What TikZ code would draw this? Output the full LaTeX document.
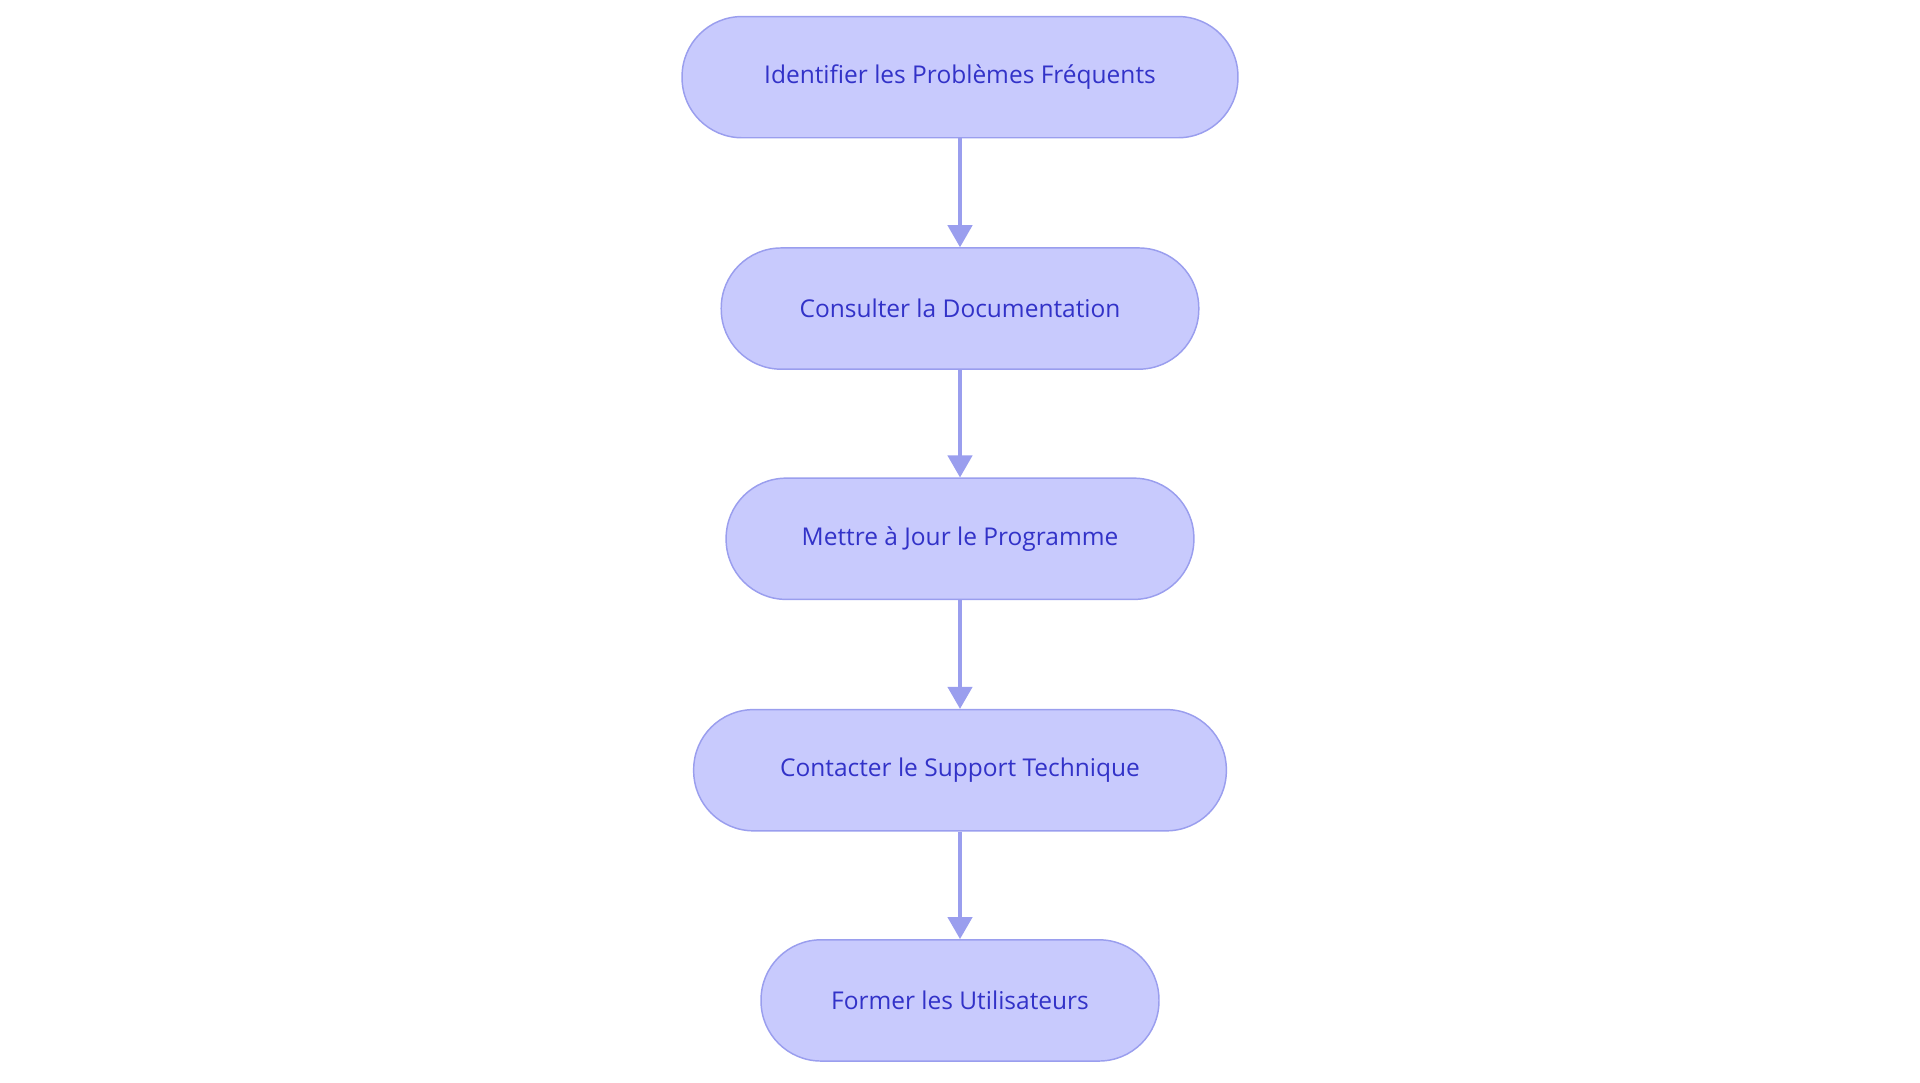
\documentclass[tikz,border=0pt]{standalone}
\usepackage{fontspec}
\setmainfont{Open Sans}
\usetikzlibrary{arrows.meta}
\definecolor{fillc}{HTML}{C8CAFD}
\definecolor{linec}{HTML}{9A9EEE}
\definecolor{textc}{HTML}{3232C8}
\begin{document}
\begin{tikzpicture}[x=1pt,y=-1pt,
 box/.style={draw=linec,line width=1.2pt,fill=fillc,rounded corners=49pt,minimum height=99pt,text=textc,font=\fontsize{20}{24}\selectfont,inner sep=0pt},
 arr/.style={draw=linec,line width=2.5pt,-{Triangle[length=18pt,width=20pt]}}]
\useasboundingbox (0,0) rectangle (1568,884);
\node[box,minimum width=454pt] (a) at (784,63) {Identifier les Problèmes Fréquents};
\node[box,minimum width=390pt] (b) at (784,252) {Consulter la Documentation};
\node[box,minimum width=382pt] (c) at (784,440) {Mettre à Jour le Programme};
\node[box,minimum width=435pt] (d) at (784,629) {Contacter le Support Technique};
\node[box,minimum width=325pt] (e) at (784,817) {Former les Utilisateurs};
\draw[arr] (a) -- (b);
\draw[arr] (b) -- (c);
\draw[arr] (c) -- (d);
\draw[arr] (d) -- (e);
\end{tikzpicture}
\end{document}
